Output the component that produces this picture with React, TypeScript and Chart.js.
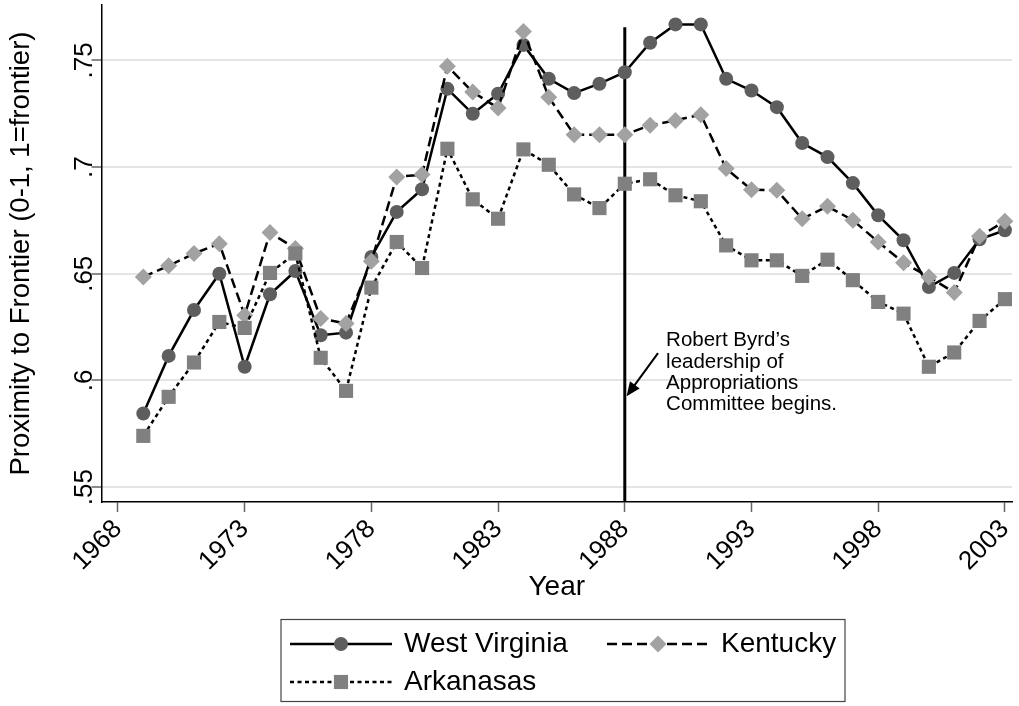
import React, { useEffect, useRef } from 'react';
import { Chart, registerables } from 'chart.js';

Chart.register(...registerables);

// ---------- DATA ----------
const years: number[] = [
  1969, 1970, 1971, 1972, 1973, 1974, 1975, 1976, 1977, 1978, 1979, 1980,
  1981, 1982, 1983, 1984, 1985, 1986, 1987, 1988, 1989, 1990, 1991, 1992,
  1993, 1994, 1995, 1996, 1997, 1998, 1999, 2000, 2001, 2002, 2003,
];

const westVirginia: number[] = [
  0.5845, 0.6115, 0.633, 0.650, 0.6064, 0.6404, 0.6513, 0.6212, 0.6224, 0.6579, 0.679, 0.6896,
  0.7367, 0.725, 0.7344, 0.7573, 0.7414, 0.7347, 0.7391, 0.7445, 0.7583, 0.7669, 0.7669, 0.7414,
  0.7359, 0.7281, 0.7113, 0.7047, 0.6925, 0.6774, 0.6657, 0.6438, 0.6504, 0.6662, 0.6704,
];

const kentucky: number[] = [
  0.6485, 0.6537, 0.6595, 0.6641, 0.6306, 0.6693, 0.6618, 0.629, 0.6267, 0.6559, 0.6954, 0.6965,
  0.7473, 0.7352, 0.7277, 0.7636, 0.7328, 0.7152, 0.7152, 0.7152, 0.7196, 0.7219, 0.7246, 0.6993,
  0.6894, 0.6891, 0.6758, 0.6816, 0.6751, 0.6649, 0.6552, 0.6485, 0.6412, 0.6676, 0.6746,
];

const arkanasas: number[] = [
  0.574, 0.5923, 0.6084, 0.6274, 0.6246, 0.6504, 0.6595, 0.6106, 0.5951, 0.6435, 0.6649, 0.6527,
  0.7086, 0.6849, 0.6758, 0.7083, 0.7011, 0.6872, 0.6808, 0.6922, 0.6943, 0.6868, 0.684, 0.6633,
  0.6563, 0.6563, 0.649, 0.6566, 0.647, 0.6368, 0.6313, 0.6064, 0.6131, 0.6279, 0.6381,
];

const seriesNames: string[] = ['West Virginia', 'Kentucky', 'Arkanasas'];

const xTicks: number[] = [1968, 1973, 1978, 1983, 1988, 1993, 1998, 2003];
const yTicks: number[] = [0.55, 0.6, 0.65, 0.7, 0.75];
const yTickLabels: string[] = ['.55', '.6', '.65', '.7', '.75'];

const xRange: number[] = [1967.35, 2003.28];
const yRange: number[] = [0.543, 0.776];

const eventYear = 1988;
const eventLineSpan: number[] = [0.543, 0.7656];
const arrowFrom: number[] = [1989.31, 0.6128];
const arrowTo: number[] = [1988.07, 0.5926];
const noteAnchor: number[] = [1989.63, 0.6187];
const noteLines: string[] = ['Robert Byrd\u2019s', 'leadership of', 'Appropriations', 'Committee begins.'];

const xTitle = 'Year';
const yTitle = 'Proximity to Frontier (0-1, 1=frontier)';

// ---------- STYLE ----------
const FONT = '"Liberation Sans", Arial, sans-serif';
const styles = [
  { color: '#5e5e5e', dash: [] as number[], point: 'circle', radius: 7 },
  { color: '#a2a2a2', dash: [10, 5], point: 'rectRot', radius: 8.5 },
  { color: '#808080', dash: [4, 3.5], point: 'rect', radius: 10 },
];
const seriesValues = [westVirginia, kentucky, arkanasas];

function drawMarker(ctx: CanvasRenderingContext2D, kind: string, r: number, x: number, y: number, color: string) {
  ctx.save();
  ctx.fillStyle = color;
  ctx.beginPath();
  if (kind === 'circle') {
    ctx.arc(x, y, r, 0, Math.PI * 2);
  } else if (kind === 'rectRot') {
    ctx.moveTo(x, y - r);
    ctx.lineTo(x + r, y);
    ctx.lineTo(x, y + r);
    ctx.lineTo(x - r, y);
    ctx.closePath();
  } else {
    const h = r * Math.SQRT1_2;
    ctx.rect(x - h, y - h, 2 * h, 2 * h);
  }
  ctx.fill();
  ctx.restore();
}

function zeroPadding(scale: any) {
  scale.paddingLeft = 0;
  scale.paddingRight = 0;
  scale.paddingTop = 0;
  scale.paddingBottom = 0;
}

const overlayPlugin = {
  id: 'overlay',
  afterDraw(chart: any) {
    const ctx: CanvasRenderingContext2D = chart.ctx;
    const xs = chart.scales.x;
    const ys = chart.scales.y;

    // y tick labels (vertical)
    ctx.save();
    ctx.font = `26px ${FONT}`;
    ctx.fillStyle = '#000';
    ctx.textAlign = 'center';
    ctx.textBaseline = 'middle';
    yTicks.forEach((v, i) => {
      const py = ys.getPixelForValue(v);
      ctx.save();
      ctx.translate(ys.right - 17, py);
      ctx.rotate(-Math.PI / 2);
      ctx.fillText(yTickLabels[i], 0, 0);
      ctx.restore();
    });
    ctx.restore();

    // arrow
    const x1 = xs.getPixelForValue(arrowFrom[0]);
    const y1 = ys.getPixelForValue(arrowFrom[1]);
    const x2 = xs.getPixelForValue(arrowTo[0]);
    const y2 = ys.getPixelForValue(arrowTo[1]);
    const ang = Math.atan2(y2 - y1, x2 - x1);
    const headLen = 14;
    const headHalf = 6;
    ctx.save();
    ctx.strokeStyle = '#000';
    ctx.fillStyle = '#000';
    ctx.lineWidth = 2;
    ctx.beginPath();
    ctx.moveTo(x1, y1);
    ctx.lineTo(x2 - Math.cos(ang) * headLen * 0.8, y2 - Math.sin(ang) * headLen * 0.8);
    ctx.stroke();
    ctx.beginPath();
    ctx.moveTo(x2, y2);
    ctx.lineTo(
      x2 - Math.cos(ang) * headLen + Math.sin(ang) * headHalf,
      y2 - Math.sin(ang) * headLen - Math.cos(ang) * headHalf
    );
    ctx.lineTo(
      x2 - Math.cos(ang) * headLen - Math.sin(ang) * headHalf,
      y2 - Math.sin(ang) * headLen + Math.cos(ang) * headHalf
    );
    ctx.closePath();
    ctx.fill();
    ctx.restore();

    // annotation text
    ctx.save();
    ctx.font = `20.5px ${FONT}`;
    ctx.fillStyle = '#000';
    ctx.textAlign = 'left';
    ctx.textBaseline = 'middle';
    const nx = xs.getPixelForValue(noteAnchor[0]);
    const ny = ys.getPixelForValue(noteAnchor[1]);
    noteLines.forEach((t, i) => ctx.fillText(t, nx, ny + i * 21.4));
    ctx.restore();

    // legend
    const box = { left: 281, top: 619.5, width: 564, height: 82 };
    ctx.save();
    ctx.strokeStyle = '#444';
    ctx.lineWidth = 1.2;
    ctx.strokeRect(box.left, box.top, box.width, box.height);
    const items = [
      { x: 290, y: 644 },
      { x: 607, y: 644 },
      { x: 290, y: 682 },
    ];
    const sampleLen = 102;
    ctx.font = `28px ${FONT}`;
    ctx.textBaseline = 'middle';
    ctx.textAlign = 'left';
    items.forEach((it, i) => {
      const st = styles[i];
      ctx.save();
      ctx.strokeStyle = '#000';
      ctx.lineWidth = 2.5;
      ctx.setLineDash(st.dash);
      ctx.beginPath();
      ctx.moveTo(it.x, it.y);
      ctx.lineTo(it.x + sampleLen, it.y);
      ctx.stroke();
      ctx.restore();
      drawMarker(ctx, st.point, st.radius, it.x + sampleLen / 2, it.y, st.color);
      ctx.fillStyle = '#000';
      ctx.fillText(seriesNames[i], it.x + sampleLen + 12, it.y);
    });
    ctx.restore();
  },
};

export default function App() {
  const canvasRef = useRef<HTMLCanvasElement | null>(null);

  useEffect(() => {
    const canvas = canvasRef.current;
    if (!canvas) return;

    const seriesDatasets = seriesValues.map((vals, i) => ({
      label: seriesNames[i],
      data: years.map((yr, k) => ({ x: yr, y: vals[k] })),
      borderColor: '#000',
      borderWidth: 2.5,
      borderDash: styles[i].dash,
      pointStyle: styles[i].point,
      pointRadius: styles[i].radius,
      pointBackgroundColor: styles[i].color,
      pointBorderColor: styles[i].color,
      pointBorderWidth: 0,
      fill: false,
      tension: 0,
      clip: false,
      order: 3 - i,
    }));

    const eventDataset = {
      label: 'event',
      data: [
        { x: eventYear, y: eventLineSpan[0] },
        { x: eventYear, y: eventLineSpan[1] },
      ],
      borderColor: '#000',
      borderWidth: 3,
      pointRadius: 0,
      fill: false,
      order: 10,
    };

    const chart = new Chart(canvas, {
      type: 'line',
      data: { datasets: [...seriesDatasets, eventDataset] as any },
      options: {
        responsive: false,
        animation: false,
        events: [],
        layout: { autoPadding: false, padding: { left: 0, top: 5, right: 7, bottom: 101.7 } },
        plugins: {
          legend: { display: false },
          tooltip: { enabled: false },
        },
        scales: {
          x: {
            type: 'linear',
            min: xRange[0],
            max: xRange[1],
            afterBuildTicks: (scale: any) => {
              scale.ticks = xTicks.map((v) => ({ value: v }));
            },
            afterFit: (scale: any) => {
              scale.height = 102.3;
              zeroPadding(scale);
            },
            ticks: {
              autoSkip: false,
              minRotation: 45,
              maxRotation: 45,
              color: '#000',
              font: { family: FONT, size: 26 },
              padding: 2,
              callback: (v: any) => String(v),
            },
            grid: {
              display: true,
              drawOnChartArea: false,
              drawTicks: true,
              tickLength: 10,
              tickColor: '#666',
              tickWidth: 1.5,
            },
            border: { display: true, color: '#000', width: 1.5 },
            title: {
              display: true,
              text: xTitle,
              color: '#000',
              font: { family: FONT, size: 28, lineHeight: 1.2 },
              padding: { top: 0, bottom: 0 },
            },
          },
          y: {
            type: 'linear',
            min: yRange[0],
            max: yRange[1],
            afterBuildTicks: (scale: any) => {
              scale.ticks = yTicks.map((v) => ({ value: v }));
            },
            afterFit: (scale: any) => {
              scale.width = 101.5;
              zeroPadding(scale);
            },
            ticks: { display: false },
            grid: {
              display: true,
              color: '#e4e4e4',
              lineWidth: 2,
              drawTicks: true,
              tickLength: 10,
              tickColor: '#666',
              tickWidth: 1.5,
            },
            border: { display: true, color: '#000', width: 1.5 },
            title: {
              display: true,
              text: yTitle,
              color: '#000',
              font: { family: FONT, size: 27.5, lineHeight: 1.2 },
              padding: { top: 4.5, bottom: 0 },
            },
          },
        },
      },
      plugins: [overlayPlugin],
    });

    return () => chart.destroy();
  }, []);

  return (
    <div style={{ position: 'fixed', left: 0, top: 0, width: 1019, height: 706, background: '#fff' }}>
      <canvas ref={canvasRef} width={1019} height={706} style={{ display: 'block' }} />
    </div>
  );
}
